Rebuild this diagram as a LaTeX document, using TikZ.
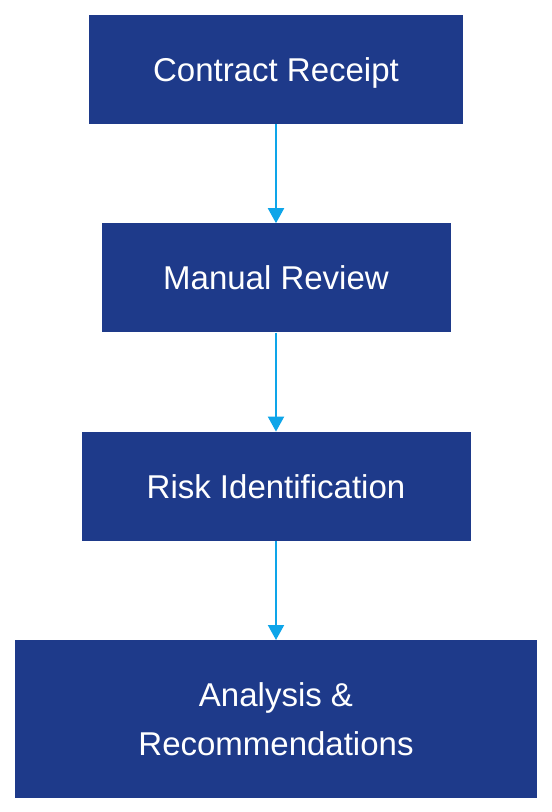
\documentclass[tikz,border=0pt]{standalone}
\usepackage{fontspec}
\setmainfont{Liberation Sans}
\usetikzlibrary{positioning, arrows.meta}

\definecolor{stageblue}{HTML}{1E3A8A}
\definecolor{flowblue}{HTML}{0EA5E9}

\begin{document}
\begin{tikzpicture}[x=1pt, y=-1pt, font=\fontsize{33}{49}\selectfont,
    stage/.style={fill=stageblue, text=white, minimum height=109pt, align=center, inner sep=0pt,
      text height=23.6pt, text depth=0pt},
    flow/.style={-{Triangle[width=16pt, length=15pt]}, line width=2pt, draw=flowblue}]
    \useasboundingbox (0,0) rectangle (552,812);

    % Process stages
    \node[stage, minimum width=374pt] (receipt) at (276,69.5) {Contract Receipt};
    \node[stage, minimum width=349pt, below=99pt of receipt] (review) {Manual Review};
    \node[stage, minimum width=389pt, below=99pt of review] (risk) {Risk Identification};
    \node[stage, minimum width=522pt, minimum height=158pt, text height=72.6pt, below=99pt of risk] (analysis) {Analysis \&\\Recommendations};

    % Connectors
    \draw[flow] (receipt) -- (review);
    \draw[flow] (review) -- (risk);
    \draw[flow] (risk) -- (analysis);

  \end{tikzpicture}
\end{document}
